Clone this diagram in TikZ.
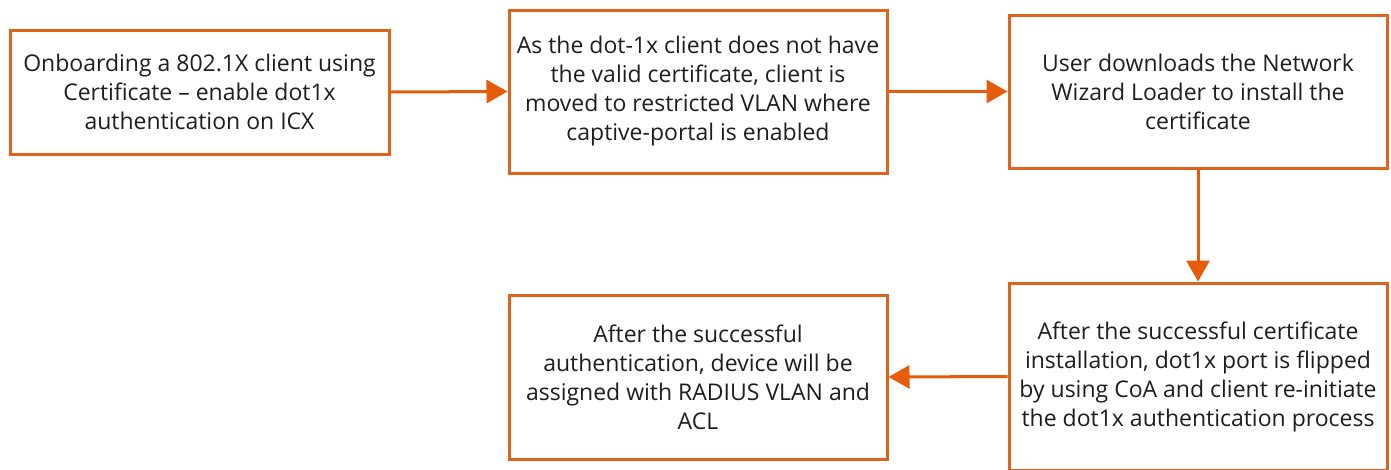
\documentclass[tikz,border=0pt]{standalone}
\usepackage{fontspec}
\setmainfont{Open Sans}
\usetikzlibrary{arrows.meta}
\definecolor{flow}{RGB}{222,100,28}
\definecolor{arrowc}{RGB}{230,92,10}
\definecolor{ink}{RGB}{30,30,30}
\tikzset{
  stepbox/.style={draw=flow, line width=3pt, fill=white, align=center,
    text=ink, font=\fontsize{23}{29}\selectfont, inner sep=0pt},
  link/.style={draw=arrowc, line width=3pt,
    -{Triangle[length=21pt,width=23pt]}}
}
\begin{document}
\begin{tikzpicture}[x=1pt,y=-1pt]
\useasboundingbox (0,0) rectangle (1391,469);
\fill[white] (0,0) rectangle (1391,469);

\node[stepbox, minimum width=379pt, minimum height=124pt] (a) at (199.5,92)
  {Onboarding a 802.1X client using\\Certificate -- enable dot1x\\authentication on ICX};
\node[stepbox, minimum width=378pt, minimum height=163pt] (b) at (698,91.5)
  {As the dot-1x client does not have\\the valid certificate, client is\\moved to restricted VLAN where\\captive-portal is enabled};
\node[stepbox, minimum width=378pt, minimum height=153pt] (c) at (1198,91.5)
  {User downloads the Network\\Wizard Loader to install the\\certificate};
\node[stepbox, minimum width=378pt, minimum height=187pt] (d) at (1198,376.5)
  {After the successful certificate\\installation, dot1x port is flipped\\by using CoA and client re-initiate\\the dot1x authentication process};
\node[stepbox, minimum width=378pt, minimum height=164pt] (e) at (698,377)
  {After the successful\\authentication, device will be\\assigned with RADIUS VLAN and\\ACL};

\draw[link] (a.east) -- (b.west);
\draw[link] (b.east) -- (c.west);
\draw[link] (c.south) -- (d.north);
\draw[link] (d.west) -- (e.east);
\end{tikzpicture}
\end{document}
